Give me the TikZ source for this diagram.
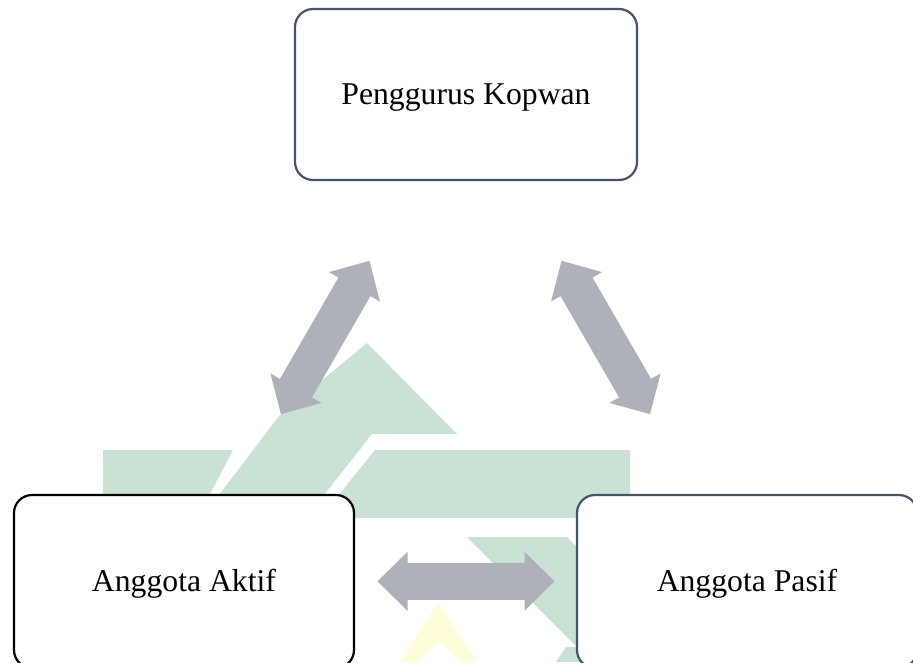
\documentclass[tikz,border=0pt]{standalone}
\usepackage{fontspec}
\setmainfont{Liberation Serif}
\definecolor{slate}{HTML}{44546A}
\definecolor{arrowgray}{HTML}{AFB1B9}
\definecolor{wmgreen}{HTML}{C8E3D4}
\definecolor{wmyellow}{HTML}{FFFCD9}
\begin{document}
\begin{tikzpicture}[x=1pt,y=-1pt,
  box/.style={draw=#1, line width=2.2pt, rounded corners=18pt, fill=white,
    minimum width=340pt, minimum height=173pt, inner sep=0pt,
    text height=20pt, text depth=0pt,
    font=\fontsize{31.7}{36}\selectfont},
  wm/.style={fill=wmgreen, draw=none},
  blockarrow/.style={fill=arrowgray, draw=none}]
\useasboundingbox (0,0) rectangle (913,662);
\clip (0,0) rectangle (913,662);

% faint logo in the background
\fill[wm] (367,343) -- (279,416) -- (215,500) -- (320,500) -- (372,434) -- (457,434) -- cycle;
\fill[wm] (103,450) -- (233,450) -- (207,500) -- (103,500) -- cycle;
\fill[wm] (375,450) -- (630,450) -- (630,518) -- (320,518) -- cycle;
\fill[wm] (467,537) -- (567,537) -- (692,662) -- (592,662) -- cycle;
\fill[wm] (556,662) -- (566,647) -- (580,647) -- (580,662) -- cycle;
\fill[wmyellow, even odd rule] (438,602) -- (477,662) -- (400,662) -- cycle
  (438,640) -- (460,662) -- (417,662) -- cycle;

% boxes
\node[box=slate] (top) at (466,94.5) [minimum width=342pt, minimum height=171pt] {Penggurus Kopwan};
\node[box=black] (aktif) at (184,581.5) {Anggota Aktif};
\node[box=slate] (pasif) at (747,581.5) {Anggota Pasif};

% two-headed block arrows between the boxes
\coordinate (ta) at (325.2,337.5);
\coordinate (tp) at (605.8,337.5);
\coordinate (ap) at (466,581.3);
\foreach \c/\ang in {ta/60, tp/120, ap/0}{
  \fill[blockarrow, shift={(\c)}, rotate=\ang]
    (-88.5,0) -- (-58.5,29.5) -- (-58.5,18.5) -- (58.5,18.5) -- (58.5,29.5)
    -- (88.5,0) -- (58.5,-29.5) -- (58.5,-18.5) -- (-58.5,-18.5)
    -- (-58.5,-29.5) -- cycle;
}
\end{tikzpicture}
\end{document}
